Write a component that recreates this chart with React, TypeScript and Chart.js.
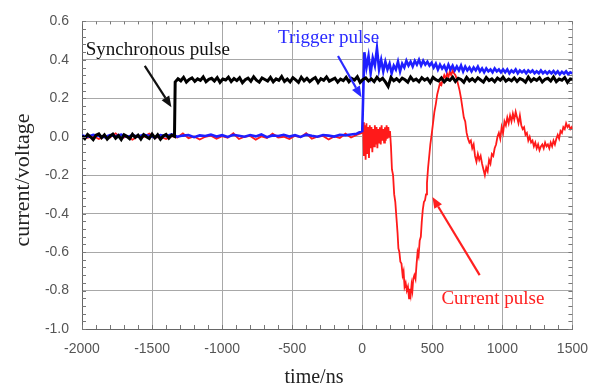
import React, { useEffect, useRef } from "react";
import { Chart, registerables } from "chart.js";

Chart.register(...registerables);

// ---------------- data ----------------
// Synchronous pulse (black): sampled every 20 ns
const syncPreStart = -2000;
const syncPreStep = 20;
const syncPreValues = [0.005, -0.01, 0.012, 0.0, -0.015, 0.008, 0.015, -0.005, 0.01, -0.012, 0.003, 0.014, -0.008, 0.006, -0.014, 0.01, 0.002, -0.01, 0.013, -0.004, 0.008, -0.012, 0.011, 0.0, -0.009, 0.014, -0.006, 0.01, -0.013, 0.004, 0.012, -0.007, 0.009, 0.002];
const syncPostStart = -1335;
const syncPostStep = 20;
const syncPostValues = [
  0.285, 0.302, 0.291, 0.309, 0.284, 0.298, 0.306, 0.288, 0.301, 0.293, 0.311, 0.286, 0.299, 0.304, 0.29, 0.308, 0.283, 0.3, 0.295, 0.31,
  0.287, 0.303, 0.292, 0.307, 0.281, 0.297, 0.305, 0.289, 0.312, 0.294, 0.284, 0.306, 0.298, 0.29, 0.309, 0.286, 0.301, 0.293, 0.313, 0.288,
  0.3, 0.285, 0.307, 0.296, 0.283, 0.31, 0.291, 0.304, 0.287, 0.299, 0.308, 0.282, 0.302, 0.294, 0.311, 0.289, 0.297, 0.305, 0.284, 0.3,
  0.292, 0.309, 0.286, 0.303, 0.295, 0.312, 0.283, 0.298, 0.306, 0.29, 0.301, 0.287, 0.31, 0.293, 0.304, 0.285, 0.262, 0.308, 0.291, 0.302,
  0.288, 0.305, 0.296, 0.284, 0.311, 0.292, 0.3, 0.286, 0.307, 0.294, 0.303, 0.282, 0.309, 0.297, 0.29, 0.306, 0.285, 0.301, 0.293, 0.31,
  0.287, 0.304, 0.298, 0.283, 0.309, 0.291, 0.302, 0.288, 0.306, 0.295, 0.284, 0.308, 0.292, 0.301, 0.286, 0.305, 0.294, 0.31, 0.289, 0.3,
  0.291, 0.306, 0.288, 0.303, 0.296, 0.284, 0.31, 0.289, 0.302, 0.293, 0.307, 0.285, 0.299, 0.304, 0.29, 0.311, 0.287, 0.3, 0.294, 0.308,
  0.283, 0.301, 0.297, 0.305
];

// Trigger pulse (blue)
const triggerPreStart = -2000;
const triggerPreStep = 40;
const triggerPreValues = [
  0.006, 0.0, 0.01, 0.004, -0.002, 0.009, 0.002, 0.011, -0.001, 0.007,
  0.001, 0.01, 0.005, -0.003, 0.008, 0.003, 0.012, 0.0, 0.006, 0.009,
  -0.002, 0.007, 0.004, 0.011, 0.001, 0.008, -0.001, 0.01, 0.005, 0.0,
  0.009, 0.002, 0.012, -0.002, 0.007, 0.004, 0.01, 0.001, 0.008, -0.001,
  0.011, 0.005, 0.0, 0.009, 0.006, 0.001, 0.01, 0.008, 0.012, 0.016, 0.03
];
const triggerPostStart = 15;
const triggerPostStep = 15;
const triggerPostValues = [
  0.44, 0.36, 0.42, 0.33, 0.41, 0.37, 0.46, 0.35, 0.4, 0.34,
  0.39, 0.35, 0.38, 0.33, 0.37, 0.35, 0.39, 0.34, 0.38, 0.36,
  0.395, 0.37, 0.39, 0.365, 0.395, 0.375, 0.4, 0.37, 0.395, 0.375,
  0.39, 0.37, 0.385, 0.36, 0.38, 0.35, 0.375, 0.355, 0.37, 0.345,
  0.375, 0.35, 0.37, 0.345, 0.365, 0.345, 0.37, 0.34, 0.365, 0.345,
  0.36, 0.34, 0.36, 0.345, 0.365, 0.34, 0.355, 0.335, 0.355, 0.34,
  0.35, 0.335, 0.355, 0.34, 0.35, 0.335, 0.35, 0.335, 0.35, 0.33,
  0.345, 0.335, 0.35, 0.33, 0.345, 0.335, 0.345, 0.33, 0.345, 0.335,
  0.345, 0.33, 0.34, 0.33, 0.345, 0.33, 0.34, 0.328, 0.34, 0.33,
  0.342, 0.328, 0.34, 0.325, 0.338, 0.328, 0.34, 0.325, 0.335, 0.33
];

// Current pulse (red)
const currentPreStart = -2000;
const currentPreStep = 40;
const currentPreValues = [0.0, -0.006, 0.004, -0.012, 0.002, -0.004, 0.018, -0.008, 0.0, -0.015, 0.004, -0.002, 0.016, -0.006, 0.0, -0.012, 0.003, -0.004, 0.018, -0.008, 0.002, -0.014, 0.0, 0.006, -0.01, 0.003, -0.005, 0.018, -0.012, 0.0, 0.004, -0.015, 0.002, -0.006, 0.016, -0.004, 0.0, -0.012, 0.005, -0.003, 0.018, -0.01, 0.0, 0.004, -0.014, 0.002, -0.006, 0.016, -0.004, 0.01];
const currentNoiseStart = 0;
const currentNoiseStep = 6;
const currentNoiseValues = [0.02, 0.075, -0.1, 0.06, -0.12, 0.07, -0.09, 0.05, -0.11, 0.06, -0.06, 0.05, -0.08, 0.04, -0.05, 0.06, -0.04, 0.05, -0.06, 0.04, -0.03, 0.05, -0.04, 0.06, -0.02, 0.04, -0.03, 0.05, -0.02, 0.06, -0.01, 0.05, 0.0];
const currentTime = [
  198, 205, 212, 220, 228, 236, 244, 252, 258, 265, 272, 280, 288, 295, 302, 310, 318, 326, 334, 340,
  346, 352, 358, 364, 372, 380, 388, 395, 402, 410, 418, 425, 432, 440, 448, 455, 462, 470, 478, 486,
  495, 505, 515, 525, 535, 545, 555, 565, 575, 585, 595, 605, 615, 625, 635, 645, 655, 665, 675, 685,
  695, 705, 715, 725, 735, 745, 755, 765, 775, 785, 795, 805, 815, 825, 835, 845, 855, 865, 875, 885,
  895, 905, 915, 925, 935, 945, 955, 965, 975, 985, 995, 1005, 1015, 1025, 1035, 1045, 1055, 1065, 1075, 1085,
  1095, 1105, 1115, 1125, 1135, 1145, 1155, 1165, 1175, 1185, 1195, 1205, 1215, 1225, 1235, 1245, 1255, 1265, 1275, 1285,
  1295, 1305, 1315, 1325, 1335, 1345, 1355, 1365, 1375, 1385, 1395, 1405, 1415, 1425, 1435, 1445, 1455, 1465, 1475, 1485,
  1495, 1500
];
const currentValue = [
  0.03, -0.05, -0.17, -0.2, -0.3, -0.34, -0.42, -0.5, -0.58, -0.6, -0.65, -0.66, -0.72, -0.7, -0.78, -0.76, -0.8, -0.78, -0.84, -0.79,
  -0.82, -0.77, -0.8, -0.74, -0.72, -0.74, -0.66, -0.6, -0.62, -0.54, -0.52, -0.44, -0.38, -0.34, -0.33, -0.3, -0.24, -0.16, -0.1, -0.04,
  0.01, 0.07, 0.13, 0.17, 0.22, 0.25, 0.28, 0.27, 0.3, 0.32, 0.3, 0.33, 0.31, 0.34, 0.32, 0.345, 0.33, 0.32, 0.3, 0.27,
  0.24, 0.2, 0.15, 0.1, 0.08, 0.02, -0.01, -0.03, -0.02, -0.06, -0.04, -0.1, -0.13, -0.09, -0.12, -0.1, -0.14, -0.17, -0.2, -0.16,
  -0.18, -0.12, -0.14, -0.09, -0.1, -0.06, -0.04, 0.0, 0.02, -0.01, 0.05, 0.02, 0.08, 0.06, 0.1, 0.07, 0.11, 0.08, 0.12, 0.09,
  0.13, 0.1, 0.07, 0.11, 0.06, 0.04, 0.05, 0.01, 0.02, -0.02, 0.0, -0.03, -0.02, -0.05, -0.03, -0.06, -0.04, -0.07, -0.05, -0.04,
  -0.06, -0.03, -0.05, -0.04, -0.06, -0.03, -0.05, -0.02, -0.04, -0.01, 0.01, -0.01, 0.03, 0.02, 0.05, 0.04, 0.07, 0.05, 0.06, 0.04,
  0.05, 0.04
];

// axis ticks
const xTicks = [-2000, -1500, -1000, -500, 0, 500, 1000, 1500];
const yTicks = [-1.0, -0.8, -0.6, -0.4, -0.2, 0.0, 0.2, 0.4, 0.6];

// annotation labels (in data units)
const labelTexts = ["Synchronous pulse", "Trigger pulse", "Current pulse"];
const labelColors = ["#111111", "#2a2aff", "#ff2020"];
const labelX = [-1973, -601, 565];
const labelY = [0.449, 0.514, -0.845];
const arrowFromX = [-1552, -173, 838];
const arrowFromY = [0.369, 0.42, -0.72];
const arrowToX = [-1362, -6, 501];
const arrowToY = [0.154, 0.205, -0.314];

// ---------------- helpers ----------------
function gridSeries(start: number, step: number, values: number[]) {
  return values.map((v, i) => ({ x: start + i * step, y: v }));
}

const serif = "'Liberation Serif', 'Times New Roman', serif";
const sans = "'Liberation Sans', Arial, sans-serif";

function drawArrow(ctx: CanvasRenderingContext2D, x1: number, y1: number, x2: number, y2: number, color: string) {
  const ang = Math.atan2(y2 - y1, x2 - x1);
  const head = 11;
  const half = 4.5;
  const bx = x2 - head * Math.cos(ang);
  const by = y2 - head * Math.sin(ang);
  ctx.save();
  ctx.strokeStyle = color;
  ctx.fillStyle = color;
  ctx.lineWidth = 2.2;
  ctx.beginPath();
  ctx.moveTo(x1, y1);
  ctx.lineTo(bx, by);
  ctx.stroke();
  ctx.beginPath();
  ctx.moveTo(x2, y2);
  ctx.lineTo(bx + half * Math.sin(ang), by - half * Math.cos(ang));
  ctx.lineTo(bx - half * Math.sin(ang), by + half * Math.cos(ang));
  ctx.closePath();
  ctx.fill();
  ctx.restore();
}

const decorPlugin = {
  id: "decor",
  afterDatasetsDraw(chart: any) {
    const ctx: CanvasRenderingContext2D = chart.ctx;
    const xs = chart.scales.x;
    const ys = chart.scales.y;
    const { left, right, top, bottom } = chart.chartArea;
    // minor ticks
    ctx.save();
    ctx.strokeStyle = "#777";
    ctx.lineWidth = 1;
    ctx.beginPath();
    for (let v = -2000; v <= 1500; v += 100) {
      const px = Math.round(xs.getPixelForValue(v)) + 0.5;
      ctx.moveTo(px, bottom);
      ctx.lineTo(px, bottom - 4);
      ctx.moveTo(px, top);
      ctx.lineTo(px, top + 3);
    }
    for (let k = 0; k <= 40; k++) {
      const v = -1 + k * 0.04;
      const py = Math.round(ys.getPixelForValue(v)) + 0.5;
      ctx.moveTo(left, py);
      ctx.lineTo(left + 4, py);
      ctx.moveTo(right, py);
      ctx.lineTo(right - 4, py);
    }
    ctx.stroke();
    ctx.restore();

    // labels and arrows
    ctx.save();
    ctx.font = `19px ${serif}`;
    ctx.textBaseline = "middle";
    ctx.textAlign = "left";
    for (let i = 0; i < labelTexts.length; i++) {
      ctx.fillStyle = labelColors[i];
      ctx.fillText(labelTexts[i], xs.getPixelForValue(labelX[i]), ys.getPixelForValue(labelY[i]));
      drawArrow(
        ctx,
        xs.getPixelForValue(arrowFromX[i]),
        ys.getPixelForValue(arrowFromY[i]),
        xs.getPixelForValue(arrowToX[i]),
        ys.getPixelForValue(arrowToY[i]),
        labelColors[i]
      );
    }
    ctx.restore();

    // axis titles
    ctx.save();
    ctx.fillStyle = "#222";
    ctx.textAlign = "center";
    ctx.textBaseline = "middle";
    ctx.font = `20px ${serif}`;
    ctx.fillText("time/ns", 314, 378);
    ctx.font = `22px ${serif}`;
    ctx.translate(23, 180);
    ctx.rotate(-Math.PI / 2);
    ctx.fillText("current/voltage", 0, 0);
    ctx.restore();
  },
};

export default function App() {
  const ref = useRef<HTMLCanvasElement | null>(null);
  useEffect(() => {
    if (!ref.current) return;
    const sync = [...gridSeries(syncPreStart, syncPreStep, syncPreValues), ...gridSeries(syncPostStart, syncPostStep, syncPostValues)];
    const trigger = [...gridSeries(triggerPreStart, triggerPreStep, triggerPreValues), ...gridSeries(triggerPostStart, triggerPostStep, triggerPostValues)];
    const current = [
      ...gridSeries(currentPreStart, currentPreStep, currentPreValues),
      ...gridSeries(currentNoiseStart, currentNoiseStep, currentNoiseValues),
      ...currentTime.map((t, i) => ({ x: t, y: currentValue[i] })),
    ];
    const chart = new Chart(ref.current, {
      type: "line",
      data: {
        datasets: [
          { label: "Synchronous pulse", data: sync, borderColor: "#000000", borderWidth: 3, pointRadius: 0, tension: 0 },
          { label: "Trigger pulse", data: trigger, borderColor: "#1f1fff", borderWidth: 2.6, pointRadius: 0, tension: 0 },
          { label: "Current pulse", data: current, borderColor: "#ff1a1a", borderWidth: 1.8, pointRadius: 0, tension: 0 },
        ],
      },
      options: {
        animation: false,
        responsive: true,
        maintainAspectRatio: false,
        layout: { padding: { top: 18, right: 27, left: 0, bottom: 0 } },
        plugins: { legend: { display: false }, tooltip: { enabled: false } },
        scales: {
          x: {
            type: "linear",
            min: -2000,
            max: 1500,
            afterBuildTicks: (s: any) => {
              s.ticks = xTicks.map((v) => ({ value: v }));
            },
            afterFit: (s: any) => {
              s.height = 60;
            },
            ticks: {
              color: "#555",
              font: { family: sans, size: 14 },
              padding: 12,
              maxRotation: 0,
              callback: (v: any) => String(v),
            },
            grid: { color: "#a8a8a8", drawTicks: false, lineWidth: 1 },
            border: { color: "#666", width: 1 },
          },
          y: {
            type: "linear",
            min: -1,
            max: 0.6,
            afterBuildTicks: (s: any) => {
              s.ticks = yTicks.map((v) => ({ value: v }));
            },
            afterFit: (s: any) => {
              s.width = 82;
            },
            ticks: {
              color: "#555",
              font: { family: sans, size: 14 },
              padding: 13,
              callback: (v: any) => Number(v).toFixed(1),
            },
            grid: { color: "#a8a8a8", drawTicks: false, lineWidth: 1 },
            border: { color: "#666", width: 1 },
          },
        },
      },
      plugins: [decorPlugin],
    });
    return () => chart.destroy();
  }, []);
  return (
    <div style={{ position: "absolute", left: 0, top: 0, width: 600, height: 389, background: "#fff" }}>
      <canvas ref={ref} />
    </div>
  );
}
